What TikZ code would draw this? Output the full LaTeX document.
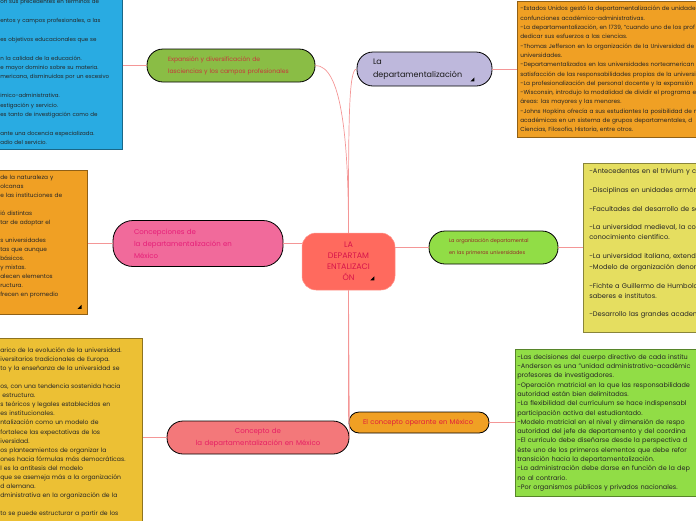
\documentclass[tikz,border=0pt]{standalone}
\usepackage{fontspec}
\setmainfont{Poppins}
\usetikzlibrary{calc}
\definecolor{mapline}{RGB}{244,150,150}
\definecolor{expblue}{RGB}{41,171,226}
\definecolor{expgreen}{RGB}{138,189,69}
\definecolor{deppurple}{RGB}{190,184,220}
\definecolor{deporange}{RGB}{240,160,36}
\definecolor{corered}{RGB}{255,106,94}
\definecolor{mexpink}{RGB}{241,106,155}
\definecolor{orglime}{RGB}{145,221,70}
\definecolor{antyellow}{RGB}{229,222,96}
\definecolor{conceptpink}{RGB}{243,120,122}
\definecolor{evolgold}{RGB}{236,192,52}
\newcommand{\skipline}{\\[\baselineskip]}

\begin{document}
\begin{tikzpicture}[x=1pt, y=-1pt,
        notebox/.style={draw=#1!60!black, fill=#1, line width=0.6pt, align=left,
            inner xsep=6pt, inner ysep=5pt, text=black!85, font=\fontsize{5.5}{9.4}\selectfont},
        pill/.style={draw=black, line width=0.8pt, align=left, rounded corners=16pt,
            inner ysep=0pt},
        link/.style={draw=mapline, line width=0.7pt},
        marker/.style={fill=black}
    ]
        \useasboundingbox (0,0) rectangle (696,520);

        \node[notebox=expblue, text width=116pt, anchor=south west] (expnotes) at (-6,150) {%
            on sus precedentes en términos de\skipline
            entos y campos profesionales, a las\skipline
            es objetivos educacionales que se\skipline
            n la calidad de la educación.\\
            e mayor dominio sobre su materia.\\
            mericana, disminuidas por un excesivo\skipline
            imico-administrativa.\\
            estigación y servicio.\\
            es tanto de investigación como de\skipline
            ante una docencia especializada.\\
            adio del servicio.};
        \node[notebox=deporange, text width=300pt, inner xsep=3pt, anchor=south west,
            font=\fontsize{5.8}{9.3}\selectfont] (topnotes) at (517,138) {%
            -Estados Unidos gestó la departamentalización de unidade\\
            confunciones académico-administrativas.\\
            -La departamentalización, en 1739, "cuando uno de los prof\\
            dedicar sus esfuerzos a las ciencias.\\
            -Thomas Jefferson en la organización de la Universidad de\\
            universidades.\\
            -Departamentalizados en las universidades norteamerican\\
            satisfacción de las responsabilidades propias de la universi\\
            -La profesionalización del personal docente y la expansión\\
            -Wisconsin, introdujo la modalidad de dividir el programa e\\
            áreas: las mayores y las menores.\\
            -Johns Hopkins ofrecía a sus estudiantes la posibilidad de n\\
            académicas en un sistema de grupos departamentales, d\\
            Ciencias, Filosofía, Historia, entre otros.};
        \node[notebox=deporange, text width=81pt, anchor=north west,
            font=\fontsize{5.8}{9}\selectfont] (leftnotes) at (-6,170) {%
            de la naturaleza y\\
            olcanas\\
            e las instituciones de\skipline
            ió distintas\\
            tar de adoptar el\skipline
            s universidades\\
            tas que aunque\\
            básicos.\\
            y mixtas.\\
            alecen elementos\\
            ructura.\\
            frecen en promedio\\[4pt]~};
        \node[notebox=antyellow, text width=300pt, anchor=north west,
            font=\fontsize{6.7}{9.4}\selectfont] (rightnotes) at (583,163) {%
            -Antecedentes en el trivium y c\skipline
            -Disciplinas en unidades armón\skipline
            -Facultades del desarrollo de sa\skipline
            -La universidad medieval, la con\\
            conocimiento científico.\skipline
            -La universidad italiana, extendi\\[2.5pt]
            -Modelo de organización denom\skipline
            -Fichte a Guillermo de Humbold\\
            saberes e institutos.\skipline
            -Desarrollo las grandes academ\\[1pt]~};
        \node[notebox=evolgold, text width=136pt, anchor=north west, inner ysep=9pt,
            font=\fontsize{6.1}{9.1}\selectfont] (goldnotes) at (-6,338) {%
            arico de la evolución de la universidad.\\
            iversitarios tradicionales de Europa.\\
            to y la enseñanza de la universidad se\skipline
            os, con una tendencia sostenida hacia\\
            \ estructura.\\
            s teóricos y legales establecidos en\\
            es institucionales.\\
            ntalización como un modelo de\\
            fortalece las expectativas de los\\
            iversidad.\\
            os planteamientos de organizar la\\
            ones hacia fórmulas más democráticas.\\
            l es la antítesis del modelo\\
            que se asemeja más a la organización\\
            d alemana.\\
            dministrativa en la organización de la\skipline
            to se puede estructurar a partir de los};
        \node[notebox=orglime, text width=300pt, inner xsep=2pt, anchor=north west,
            font=\fontsize{6.5}{9.3}\selectfont] (bottomnotes) at (515,349) {%
            -Las decisiones del cuerpo directivo de cada institu\\
            -Anderson es una "unidad administrativo-académic\\
            profesores de investigadores.\\
            -Operación matricial en la que las responsabilidade\\
            autoridad están bien delimitadas.\\
            -La flexibilidad del currículum se hace indispensabl\\
            participación activa del estudiantado.\\
            -Modelo matricial en el nivel y dimensión de respo\\
            autoridad del jefe de departamento y del coordina\\
            -El currículo debe diseñarse desde la perspectiva d\\
            éste uno de los primeros elementos que debe refor\\
            transición hacia la departamentalización.\\
            -La administración debe darse en función de la dep\\
            no al contrario.\\
            -Por organismos públicos y privados nacionales.};

        \node[pill, fill=expgreen, minimum width=168pt, minimum height=33pt, text width=126pt,
            inner xsep=21pt, text={rgb,255:red,200;green,55;blue,60},
            font=\fontsize{6.1}{12}\selectfont] (expansion) at (231,65.5)
            {Expansión y diversificación de\\lasciencias y los campos profesionales};
        \node[pill, fill=deppurple, minimum width=135pt, minimum height=34pt, text width=103pt,
            inner xsep=16pt, text=black!90, font=\fontsize{8}{13}\selectfont] (deptitle) at (424.5,69)
            {La\\departamentalización};
        \node[pill, fill=corered, draw=corered!70!white, line width=0.5pt, rounded corners=14pt,
            align=center, minimum width=93pt, minimum height=57pt, text width=70pt,
            text={rgb,255:red,215;green,20;blue,75}, font=\fontsize{8}{11}\selectfont] (core) at (348.5,261.5)
            {LA\\DEPARTAM\\ENTALIZACI\\ÓN};
        \node[pill, fill=mexpink, rounded corners=20pt, minimum width=170pt, minimum height=46pt,
            text width=128pt, inner xsep=21pt, text={rgb,255:red,230;green,30;blue,120},
            font=\fontsize{7}{12}\selectfont] (concepciones) at (198,243.5)
            {Concepciones de\\la departamentalización en\\México};
        \node[pill, fill=orglime, minimum width=129pt, minimum height=33pt, text width=89pt,
            inner xsep=20pt, text={rgb,255:red,150;green,40;blue,40},
            font=\fontsize{5}{12}\selectfont] (organizacion) at (493.5,247.5)
            {La organización departamental\\en las primeras universidades};
        \node[pill, fill=deporange, rounded corners=10pt, minimum width=140pt, minimum height=21pt,
            text width=112pt, inner xsep=14pt, text={rgb,255:red,225;green,30;blue,60},
            font=\fontsize{6.8}{8}\selectfont] (operante) at (419,422.5)
            {El concepto operante en México};
        \node[pill, fill=conceptpink, align=center, minimum width=182pt, minimum height=33pt,
            text width=160pt, inner xsep=11pt, text={rgb,255:red,230;green,30;blue,100},
            font=\fontsize{7}{12}\selectfont] (concepto) at (258,437.5)
            {Concepto de\\la departamentalización en México};

        \draw[link] (expnotes.east |- expansion.west) -- (expansion.west);
        \draw[link] (expansion.east) .. controls +(25,0) and +(0,-100) .. (core.north);
        \draw[link] (deptitle.west) .. controls +(-8,0) and +(0,-110) .. (core.north);
        \draw[link] (deptitle.east) -- (deptitle.east -| topnotes.west);
        \draw[link] (concepciones.east) -- (concepciones.east -| core.west);
        \draw[link] (concepciones.west) -- (concepciones.west -| leftnotes.east);
        \draw[link] (organizacion.west -| core.east) -- (organizacion.west);
        \draw[link] (organizacion.east) -- (organizacion.east -| rightnotes.west);
        \draw[link] (core.south) -- (operante.west);
        \draw[link] (core.south) -- (concepto.east);
        \draw[link] (operante.east) -- (operante.east -| bottomnotes.west);
        \draw[link] (concepto.west) -- (concepto.west -| goldnotes.east);

        \fill[marker] ([xshift=-22pt,yshift=5pt]deptitle.south east) -- ++(4pt,0pt) -- ++(0pt,4pt) -- cycle;
        \fill[marker] ([xshift=-25pt,yshift=10pt]core.south east) -- ++(4pt,0pt) -- ++(0pt,4pt) -- cycle;
        \fill[marker] ([xshift=-10pt,yshift=6pt]leftnotes.south east) -- ++(4pt,0pt) -- ++(0pt,4pt) -- cycle;
    \end{tikzpicture}
\end{document}
